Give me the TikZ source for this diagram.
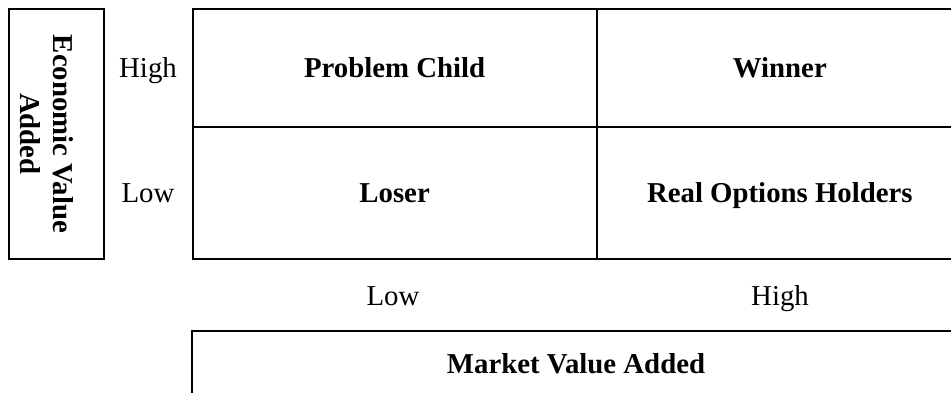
\documentclass[tikz,border=0pt]{standalone}
\usepackage{fontspec}
\setmainfont{Liberation Serif}
\begin{document}
\begin{tikzpicture}[x=1pt,y=1pt,
  every node/.style={font=\fontsize{28.8}{33}\selectfont},
  cell/.style={draw=black, line width=2pt, inner sep=0pt, text height=19pt, text depth=0pt, font=\fontsize{28.8}{33}\selectfont\bfseries},
  lbl/.style={inner sep=0pt, text height=19pt, text depth=0pt}]
\clip (0,0) rectangle (951,393);
\useasboundingbox (0,0) rectangle (951,393);
% left axis title
\node[draw=black, line width=2pt, minimum width=95pt, minimum height=250pt, inner sep=0pt] (evabox) at (56.5,259) {};
\node[rotate=-90, align=center, font=\fontsize{28.8}{33}\selectfont\bfseries] (eva) at (47,259) {Economic Value\\Added};
% grid cells
\node[cell, minimum width=404.2pt, minimum height=118.5pt] (pc) at (394.6,324.75) {Problem Child};
\node[cell, minimum width=366.3pt, minimum height=118.5pt] (win) at (779.85,324.75) {Winner};
\node[cell, minimum width=404.2pt, minimum height=131.5pt] (los) at (394.6,199.75) {Loser};
\node[cell, minimum width=366.3pt, minimum height=131.5pt] (roh) at (779.85,199.75) {Real Options Holders};
% axis labels
\node[lbl] (hi) at (148,324.75) {High};
\node[lbl] (lo) at (148,199.75) {Low};
\node[lbl] (blo) at (393,97) {Low};
\node[lbl] (bhi) at (780,97) {High};
% market value added box
\node[draw=black, line width=2pt, minimum width=768pt, minimum height=66pt, inner sep=0pt, text height=19pt, text depth=0pt, font=\fontsize{28.8}{33}\selectfont\bfseries] (mva) at (576,29.3) {Market Value Added};
\end{tikzpicture}
\end{document}
